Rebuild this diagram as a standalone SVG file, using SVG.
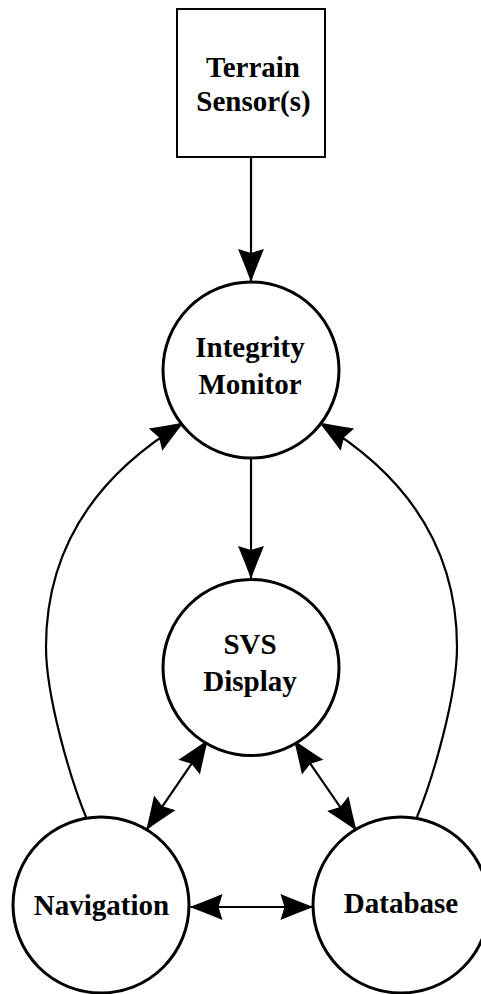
<svg xmlns="http://www.w3.org/2000/svg" width="481" height="994" viewBox="0 0 481 994">
  <style>
    .node { fill: #ffffff; stroke: #000000; stroke-width: 3; }
    .box { fill: #ffffff; stroke: #000000; stroke-width: 2; }
    .lbl { font-family: "Liberation Serif", "Times New Roman", serif; font-weight: bold; font-size: 29px; fill: #000000; text-anchor: middle; }
    .edge { fill: none; stroke: #000000; stroke-width: 2.2; }
  </style>
  <defs>
    <marker id="arr" markerUnits="userSpaceOnUse" viewBox="-34 -15 36 30" markerWidth="36" markerHeight="30" refX="0" refY="0" orient="auto-start-reverse" overflow="visible">
      <path d="M1,0 Q-14,-5.5 -32,-13 L-28,0 L-32,13 Q-14,5.5 1,0 Z" fill="#000000"/>
    </marker>
  </defs>
  <rect width="481" height="994" fill="#ffffff"/>
  <g id="connectors">
    <path class="edge" d="M251,157 L251,281" marker-end="url(#arr)"/>
    <path class="edge" d="M251,458 L251,578" marker-end="url(#arr)"/>
    <path class="edge" d="M86,817 C70.8,780 46,697 46,647 C46,575 72,490 183,423" marker-end="url(#arr)"/>
    <path class="edge" d="M417,817 C432.2,780 457,697 457,647 C457,575 431,490 320,423" marker-end="url(#arr)"/>
    <path class="edge" d="M207.3,740.7 L146.7,829.3" marker-start="url(#arr)" marker-end="url(#arr)"/>
    <path class="edge" d="M294.5,740.7 L356,830" marker-start="url(#arr)" marker-end="url(#arr)"/>
    <path class="edge" d="M190.5,907 L312.5,907" marker-start="url(#arr)" marker-end="url(#arr)"/>
  </g>
  <g id="terrain-sensors">
    <rect class="box" x="177" y="9" width="148" height="148"/>
    <text class="lbl" x="253" y="77">Terrain</text>
    <text class="lbl" x="253.5" y="110.5">Sensor(s)</text>
  </g>
  <g id="integrity-monitor">
    <circle class="node" cx="251" cy="370" r="88"/>
    <text class="lbl" x="250" y="357">Integrity</text>
    <text class="lbl" x="250" y="394">Monitor</text>
  </g>
  <g id="svs-display">
    <circle class="node" cx="251" cy="667.5" r="88"/>
    <text class="lbl" x="250" y="654">SVS</text>
    <text class="lbl" x="250" y="690.5">Display</text>
  </g>
  <g id="navigation">
    <circle class="node" cx="101" cy="905" r="88"/>
    <text class="lbl" x="101.5" y="915">Navigation</text>
  </g>
  <g id="database">
    <circle class="node" cx="401" cy="905" r="88"/>
    <text class="lbl" x="401" y="913">Database</text>
  </g>
</svg>
